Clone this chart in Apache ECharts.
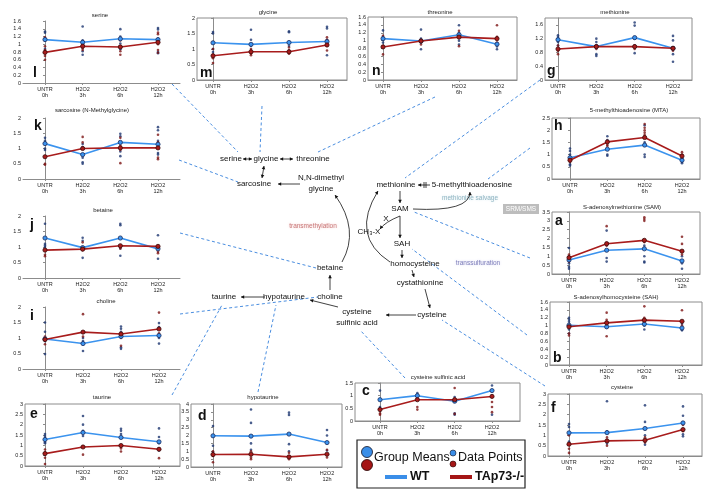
<!DOCTYPE html>
<html><head><meta charset="utf-8">
<script src="https://cdn.jsdelivr.net/npm/echarts@6/dist/echarts.min.js"></script>
<style>html,body{margin:0;padding:0;background:#fff}#c{width:710px;height:491px}</style>
</head><body><div id="c"></div>
<script>
const categories = ['UNTR\n0h','H2O2\n3h','H2O2\n6h','H2O2\n12h'];

const serineWT = [1.12,1.05,1.14,1.12];
const serineKO = [0.79,0.95,0.93,1.05];
const serineWTPts = [[1.33,1.30,1.15,1.10,0.88],[1.46,1.10,1.02,0.82,0.73],[1.39,1.20,1.02,0.90,0.87],[1.42,1.38,1.15,0.80,0.77]];
const serineKOPts = [[1.18,1.12,0.95,0.85,0.70,0.60],[1.05,0.95,0.90,0.85],[1.10,0.95,0.82,0.73],[1.30,1.26,1.00,0.85,0.78]];

const glycineWT = [1.20,1.15,1.21,1.24];
const glycineKO = [0.78,0.91,0.91,1.13];
const glycineWTPts = [[1.55,1.50,1.00,0.90,0.80],[1.62,1.30,1.10,0.88],[1.57,1.54,1.10,0.95,0.88],[1.72,1.66,1.30,0.80]];
const glycineKOPts = [[1.00,0.82,0.70,0.55],[1.00,0.85,0.80],[1.05,0.95,0.85],[1.38,1.30,1.10,0.95]];

const threonineWT = [1.05,0.99,1.15,0.91];
const threonineKO = [0.84,0.99,1.09,1.05];
const threonineWTPts = [[1.26,1.10,1.05,0.95],[1.28,1.05,0.95,0.78],[1.39,1.20,1.00,0.90],[1.05,0.85,0.78]];
const threonineKOPts = [[1.12,0.86,0.65],[1.02,0.90],[1.25,0.86],[1.39,1.10,0.95]];

const methionineWT = [1.17,0.97,1.23,0.92];
const methionineKO = [0.90,0.97,0.97,0.92];
const methionineWTPts = [[1.30,1.25,1.10,1.00],[1.20,1.10,0.75,0.70],[1.67,1.58,1.20,1.00,0.78],[1.28,1.15,0.75,0.53]];
const methionineKOPts = [[1.00,0.85,0.75],[1.00,0.90],[1.00,0.90],[0.95,0.85]];

const sarcosineWT = [1.16,0.80,1.20,1.14];
const sarcosineKO = [0.73,1.00,1.02,1.02];
const sarcosineWTPts = [[1.35,1.25,1.00,0.95],[1.15,1.05,0.70,0.55,0.50],[1.48,1.40,0.90,0.75],[1.70,1.60,1.25,0.85,0.80]];
const sarcosineKOPts = [[0.50,0.47],[1.38,1.20,1.00],[1.35,1.10,0.95,0.52],[1.45,1.20,0.70,0.65]];

const mtaWT = [0.87,1.22,1.39,0.77];
const mtaKO = [0.77,1.52,1.70,0.94];
const mtaWTPts = [[1.25,1.15,1.00,0.60,0.55],[1.75,1.60,1.00,0.95],[2.20,1.50,1.00,0.90],[0.85,0.70,0.65]];
const mtaKOPts = [[0.90,0.70],[1.55,1.40,1.35],[2.25,2.10,2.00,1.90,1.80],[1.10,1.00,0.80]];

const betaineWT = [1.29,0.98,1.29,0.94];
const betaineKO = [0.90,0.93,1.04,1.02];
const betaineWTPts = [[1.75,1.10,1.05,1.00],[1.30,1.20,1.00,0.65],[1.75,1.70,0.95,0.72],[1.38,0.62]];
const betaineKOPts = [[0.75,0.70],[1.15,0.90],[1.00,0.95],[1.00,0.85,0.80]];

const samWT = [0.79,1.34,1.42,0.74];
const samKO = [0.92,1.71,1.90,1.29];
const samWTPts = [[1.47,1.00,0.60,0.40,0.30],[2.45,1.75,0.90,0.70],[1.60,1.00,0.70,0.65],[1.00,0.60,0.30]];
const samKOPts = [[1.10,0.90,0.70],[2.70,1.60],[3.20,3.10,3.00,1.80],[2.10,1.70,1.10]];

const cholineWT = [0.97,0.82,1.05,1.08];
const cholineKO = [0.95,1.19,1.13,1.29];
const cholineWTPts = [[1.50,1.20,0.90,0.48],[1.00,0.90,0.58],[1.37,1.30,1.20,0.70,0.65],[1.48,1.35,1.00,0.82]];
const cholineKOPts = [[1.05,0.80],[1.77,1.05],[1.00,0.75],[1.82,1.15]];

const sahWT = [1.01,0.97,1.04,0.94];
const sahKO = [0.97,1.07,1.14,1.11];
const sahWTPts = [[1.20,1.15,1.10,0.90,0.80],[1.00,0.95],[1.10,1.00,0.90],[1.05,0.90,0.88]];
const sahKOPts = [[0.80,0.75],[1.33,1.15,0.73],[1.49,1.20,1.15],[1.39,1.00]];

const taurineWT = [1.28,1.62,1.38,1.17];
const taurineKO = [0.60,0.92,0.99,0.81];
const taurineWTPts = [[1.55,1.45,1.35,1.15,1.10],[2.42,2.00,1.70,1.45],[1.80,1.70,1.55,1.40],[1.82,1.40,1.10,0.85,0.75]];
const taurineKOPts = [[0.80,0.65,0.40,0.10],[0.95,0.55],[1.00,0.85,0.70],[0.85,0.38]];

const hypotaurineWT = [1.98,1.96,2.09,1.55];
const hypotaurineKO = [0.79,0.81,0.64,0.81];
const hypotaurineWTPts = [[2.60,1.35,0.95],[3.65,2.80,1.50,1.10],[3.45,3.30,1.45,1.00],[2.35,2.00,1.05]];
const hypotaurineKOPts = [[1.00,0.70,0.30],[1.00,0.60,0.50],[0.90,0.50],[1.10,0.60]];

const csaWT = [0.84,1.00,0.78,1.20];
const csaKO = [0.45,0.84,0.84,0.97];
const csaWTPts = [[1.20,0.55,0.50],[1.10],[0.95,0.30,0.25],[1.40,0.25]];
const csaKOPts = [[0.30,0.25],[0.55,0.45],[1.30,0.28],[0.75,0.55,0.35]];

const cysteineWT = [1.12,1.13,1.33,1.60];
const cysteineKO = [0.57,0.73,0.76,1.28];
const cysteineWTPts = [[1.55,1.40,0.70],[2.65,1.20,0.60],[2.45,1.65,1.00,0.55],[2.40,1.95,1.05,0.95]];
const cysteineKOPts = [[1.00,0.35,0.15],[0.90,0.50],[0.90,0.65],[1.50,1.20]];

const methionineYTicks = [0,0.4,0.8,1.2,1.6];

const FONT = '"Liberation Sans", Arial, Helvetica, sans-serif';
const WT_LINE = '#3b93ee', KO_LINE = '#a81c1c';
const WT_DOT = '#1d3670', KO_DOT = '#7d1414';
const AX = '#8c8c8c';

const panels = [
 {title:'serine', tx:100, ty:15, letter:'l', lx:33, ly:80, L:23,R:180,T:21,B:83,c0:45,c3:158,yMax:1.6,step:0.2,box:false, wt:serineWT, ko:serineKO, wp:serineWTPts, kp:serineKOPts},
 {title:'glycine', tx:268, ty:12, letter:'m', lx:200, ly:80, L:197,R:347,T:18,B:80,c0:213,c3:327,yMax:2,step:0.5,box:true, wt:glycineWT, ko:glycineKO, wp:glycineWTPts, kp:glycineKOPts},
 {title:'threonine', tx:440, ty:12, letter:'n', lx:372, ly:78, L:368,R:517,T:17,B:80,c0:383,c3:497,yMax:1.6,step:0.2,box:true, wt:threonineWT, ko:threonineKO, wp:threonineWTPts, kp:threonineKOPts},
 {title:'methionine', tx:615, ty:12, letter:'g', lx:547, ly:78, L:545,R:692,T:18,B:80,c0:558,c3:673,yMax:1.8,step:0.4,yTicks:methionineYTicks,box:true, wt:methionineWT, ko:methionineKO, wp:methionineWTPts, kp:methionineKOPts},
 {title:'sarcosine (N-Methylglycine)', tx:92, ty:110, letter:'k', lx:34, ly:133, L:23,R:180,T:118,B:179,c0:45,c3:158,yMax:2,step:0.5,box:false, wt:sarcosineWT, ko:sarcosineKO, wp:sarcosineWTPts, kp:sarcosineKOPts},
 {title:'5-methylthioadenosine (MTA)', tx:629, ty:110, letter:'h', lx:554, ly:133, L:552,R:700,T:118,B:179,c0:570,c3:682,yMax:2.5,step:0.5,box:true, wt:mtaWT, ko:mtaKO, wp:mtaWTPts, kp:mtaKOPts},
 {title:'betaine', tx:103, ty:210, letter:'j', lx:30, ly:232, L:23,R:180,T:216,B:278,c0:45,c3:158,yMax:2,step:0.5,box:false, wt:betaineWT, ko:betaineKO, wp:betaineWTPts, kp:betaineKOPts},
 {title:'S-adenosylmethionine (SAM)', tx:622, ty:207, letter:'a', lx:555, ly:228, L:552,R:700,T:212,B:274,c0:569,c3:682,yMax:3.5,step:0.5,box:true, wt:samWT, ko:samKO, wp:samWTPts, kp:samKOPts},
 {title:'choline', tx:106, ty:301, letter:'i', lx:30, ly:323, L:23,R:180,T:307,B:369,c0:45,c3:159,yMax:2,step:0.5,box:false, wt:cholineWT, ko:cholineKO, wp:cholineWTPts, kp:cholineKOPts},
 {title:'S-adenosylhomocysteine (SAH)', tx:616, ty:297, letter:'b', lx:553, ly:365, L:550,R:702,T:302,B:365,c0:569,c3:682,yMax:1.6,step:0.2,box:true, wt:sahWT, ko:sahKO, wp:sahWTPts, kp:sahKOPts},
 {title:'taurine', tx:102, ty:397, letter:'e', lx:30, ly:421, L:25,R:180,T:404,B:466,c0:45,c3:159,yMax:3,step:0.5,box:true, wt:taurineWT, ko:taurineKO, wp:taurineWTPts, kp:taurineKOPts},
 {title:'hypotaurine', tx:263, ty:397, letter:'d', lx:198, ly:423, L:191,R:342,T:404,B:467,c0:213,c3:327,yMax:4,step:0.5,box:true, wt:hypotaurineWT, ko:hypotaurineKO, wp:hypotaurineWTPts, kp:hypotaurineKOPts},
 {title:'cysteine sulfinic acid', tx:438, ty:377, letter:'c', lx:362, ly:398, L:355,R:520,T:383,B:421,c0:380,c3:492,yMax:1.5,step:0.5,box:true, wt:csaWT, ko:csaKO, wp:csaWTPts, kp:csaKOPts},
 {title:'cysteine', tx:622, ty:387, letter:'f', lx:551, ly:415, L:548,R:702,T:394,B:456,c0:569,c3:683,yMax:3,step:0.5,box:true, wt:cysteineWT, ko:cysteineKO, wp:cysteineWTPts, kp:cysteineKOPts}
];

const grid=[], xAxis=[], yAxis=[], series=[], graphic=[];
const idx = [0,1,2,3];
panels.forEach((p,i)=>{
  const unit=(p.c3-p.c0)/3;
  grid.push({left:p.L, top:p.T, width:p.R-p.L, height:p.B-p.T, show:p.box, borderColor:AX, borderWidth:1, backgroundColor:'transparent'});
  xAxis.push({gridIndex:i, type:'value', min:-(p.c0-p.L)/unit, max:3+(p.R-p.c3)/unit,
    axisLine:{show:true, onZero:false, lineStyle:{color:AX}},
    axisTick:{show:true, customValues:idx, length:2, lineStyle:{color:AX}},
    axisLabel:{customValues:idx, formatter:v=>categories[Math.round(v)], fontSize:5.5, lineHeight:6.5, color:'#222', margin:3, fontFamily:FONT},
    splitLine:{show:false}});
  const ya = {gridIndex:i, type:'value', min:0, max:p.yMax, interval:p.step,
    axisLine:{show:true, lineStyle:{color:AX}},
    axisTick:{show:true, length:2, lineStyle:{color:AX}},
    axisLabel:{fontSize:5.5, color:'#222', margin:2, fontFamily:FONT},
    splitLine:{show:false}};
  if (p.yTicks){ ya.axisLabel.customValues=p.yTicks; ya.axisTick.customValues=p.yTicks; }
  yAxis.push(ya);
  const pts = arr => arr.flatMap((vals,ci)=>vals.map(v=>[ci,v]));
  series.push({type:'scatter', xAxisIndex:i, yAxisIndex:i, data:pts(p.wp), symbolSize:2.6, itemStyle:{color:WT_DOT}, z:2, silent:true});
  series.push({type:'scatter', xAxisIndex:i, yAxisIndex:i, data:pts(p.kp), symbolSize:2.6, itemStyle:{color:KO_DOT}, z:2, silent:true});
  series.push({type:'line', xAxisIndex:i, yAxisIndex:i, data:p.wt.map((v,ci)=>[ci,v]), symbol:'circle', symbolSize:4.2,
    lineStyle:{color:WT_LINE, width:1.6}, itemStyle:{color:WT_LINE, borderColor:'#1a2c5e', borderWidth:0.8}, z:3, silent:true});
  series.push({type:'line', xAxisIndex:i, yAxisIndex:i, data:p.ko.map((v,ci)=>[ci,v]), symbol:'circle', symbolSize:4.2,
    lineStyle:{color:KO_LINE, width:1.6}, itemStyle:{color:KO_LINE, borderColor:'#3a0808', borderWidth:0.8}, z:4, silent:true});
  graphic.push({type:'text', x:p.tx, y:p.ty, z:20, style:{text:p.title, fontSize:6, fontFamily:FONT, fill:'#222', align:'center', verticalAlign:'middle'}});
  graphic.push({type:'text', x:p.lx, y:p.ly, z:20, style:{text:p.letter, fontSize:14, fontWeight:'bold', fontFamily:FONT, fill:'#111', align:'left', verticalAlign:'bottom'}});
});

// pathway diagram
function T(x,y,s,o){graphic.push({type:'text',x,y,z:15,style:Object.assign({text:s,fontSize:8,fontFamily:FONT,fill:'#111',align:'center',verticalAlign:'middle'},o||{})});}
function head(x,y,ang){const s=3.2,w=1.8;const c=Math.cos(ang),si=Math.sin(ang);
  graphic.push({type:'polygon',z:15,shape:{points:[[x,y],[x-s*c+w*si,y-s*si-w*c],[x-s*c-w*si,y-s*si+w*c]]},style:{fill:'#111'}});}
function A(x1,y1,x2,y2,both){graphic.push({type:'line',z:15,shape:{x1,y1,x2,y2},style:{stroke:'#111',lineWidth:0.8}});
  head(x2,y2,Math.atan2(y2-y1,x2-x1)); if(both) head(x1,y1,Math.atan2(y1-y2,x1-x2));}
function C(x1,y1,cx,cy,x2,y2){graphic.push({type:'bezierCurve',z:15,shape:{x1,y1,x2,y2,cpx1:cx,cpy1:cy},style:{stroke:'#111',lineWidth:0.8,fill:null}});
  head(x2,y2,Math.atan2(y2-cy,x2-cx));}
function D(x1,y1,x2,y2){graphic.push({type:'line',z:12,shape:{x1,y1,x2,y2},style:{stroke:'#4a8ee0',lineWidth:1,lineDash:[3,2.5]}});}

T(231,159,'serine'); T(266,159,'glycine'); T(313,159,'threonine');
A(243,159,252,159,true); A(280,159,293,159,true);
T(254,184,'sarcosine'); A(262,178,264,166,true);
T(321,178,'N,N-dimethyl'); T(321,189,'glycine'); A(300,184,278,184);
T(396,185,'methionine'); T(472,185,'5-methylthioadenosine');
A(430,185,418,185); graphic.push({type:'line',z:15,shape:{x1:424,y1:182,x2:424,y2:188},style:{stroke:'#111',lineWidth:0.8}});
graphic.push({type:'line',z:15,shape:{x1:426,y1:182,x2:426,y2:188},style:{stroke:'#111',lineWidth:0.8}});
T(470,198,'methionine salvage',{fontSize:6.5,fill:'#8fb5c2',textShadowColor:'#cfe2ea',textShadowBlur:3});
T(400,209,'SAM');
graphic.push({type:'rect',z:14,shape:{x:503,y:204,width:36,height:10},style:{fill:'#bdbdbd'}});
T(521,209.5,'SRM/SMS',{fontSize:6.5,fill:'#fff'});
C(413,209,470,212,470,192);
A(400,191,400,203);
T(386,219,'X'); T(369,232,'CH\u2083-X');
C(400,216,385,222,380,229);
A(400,216,400,238);
T(402,244,'SAH');
T(313,226,'transmethylation',{fontSize:6.5,fill:'#c97777',textShadowColor:'#f0c8c8',textShadowBlur:3});
A(402,250,402,258);
T(415,264,'homocysteine');
T(478,263,'transsulfuration',{fontSize:6.5,fill:'#8080bb',textShadowColor:'#d0d0ee',textShadowBlur:3});
A(412,270,414,277);
T(420,283,'cystathionine');
A(425,289,430,308);
T(432,315,'cysteine');
A(416,315,386,315);
T(357,312,'cysteine'); T(357,323,'sulfinic acid');
A(338,307,310,300);
T(284,297,'hypotaurine'); A(265,297,241,297);
T(224,297,'taurine');
T(330,268,'betaine'); T(330,297,'choline'); A(330,290,330,275);
C(342,262,360,230,335,195);
C(390,262,350,236,378,191);

// dashed connectors
D(172,84,238,152); D(262,106,260,152); D(435,97,318,152); D(540,80,405,178);
D(179,160,238,182); D(530,148,488,179); D(530,258,414,212); D(527,335,412,249);
D(180,233,316,268); D(180,314,318,297); D(172,395,222,305); D(258,392,276,305);
D(405,378,360,330); D(545,386,442,320);

// legend
graphic.push({type:'rect',z:20,shape:{x:357,y:440,width:168,height:48},style:{fill:'#fff',stroke:'#222',lineWidth:1.2}});
graphic.push({type:'circle',z:21,shape:{cx:367,cy:452,r:5.5},style:{fill:'#3a8ee8',stroke:'#112',lineWidth:0.8}});
graphic.push({type:'circle',z:21,shape:{cx:367,cy:465,r:5.5},style:{fill:'#a51616',stroke:'#200',lineWidth:0.8}});
graphic.push({type:'circle',z:21,shape:{cx:453,cy:453,r:3},style:{fill:'#3a8ee8',stroke:'#112',lineWidth:0.6}});
graphic.push({type:'circle',z:21,shape:{cx:453,cy:464,r:3},style:{fill:'#a51616',stroke:'#200',lineWidth:0.6}});
graphic.push({type:'text',z:21,x:374,y:458,style:{text:'Group Means',fontSize:12.5,fontFamily:FONT,fill:'#111',align:'left',verticalAlign:'middle'}});
graphic.push({type:'text',z:21,x:458,y:458,style:{text:'Data Points',fontSize:12.5,fontFamily:FONT,fill:'#111',align:'left',verticalAlign:'middle'}});
graphic.push({type:'rect',z:21,shape:{x:385,y:475,width:22,height:4},style:{fill:'#3a8ee8'}});
graphic.push({type:'rect',z:21,shape:{x:450,y:475,width:22,height:4},style:{fill:'#a51616'}});
graphic.push({type:'text',z:21,x:410,y:477,style:{text:'WT',fontSize:12.5,fontWeight:'bold',fontFamily:FONT,fill:'#111',align:'left',verticalAlign:'middle'}});
graphic.push({type:'text',z:21,x:475,y:477,style:{text:'TAp73-/-',fontSize:12.5,fontWeight:'bold',fontFamily:FONT,fill:'#111',align:'left',verticalAlign:'middle'}});

const chart = echarts.init(document.getElementById('c'));
chart.setOption({animation:false, backgroundColor:'#fff', grid, xAxis, yAxis, series, graphic});
</script></body></html>
